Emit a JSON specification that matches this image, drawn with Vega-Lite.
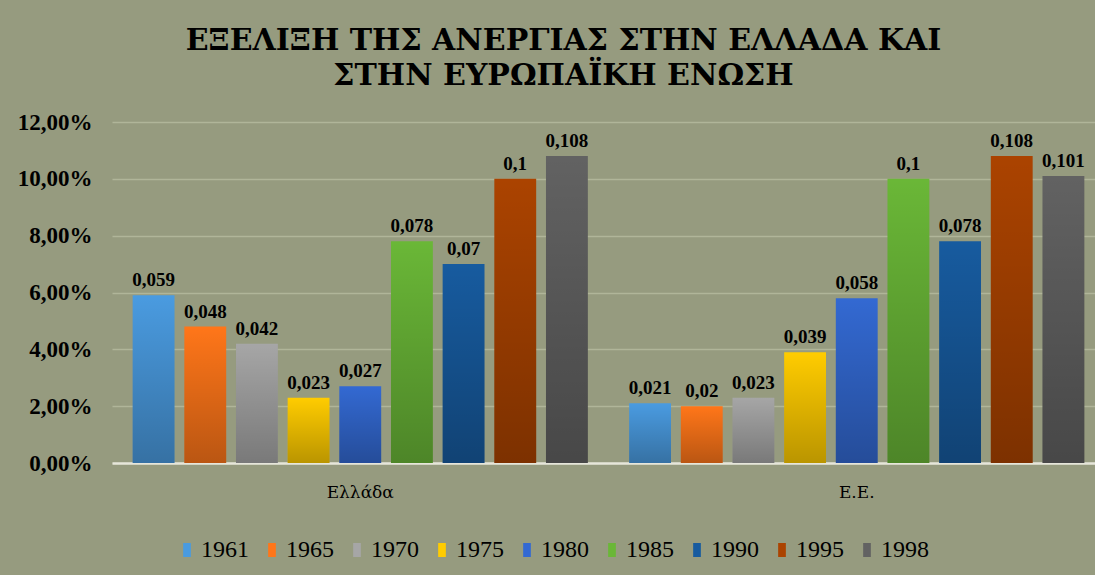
{
  "$schema": "https://vega.github.io/schema/vega-lite/v6.json",
  "width": 983,
  "height": 341,
  "autosize": {"type": "none"},
  "padding": {"left": 112, "top": 122, "right": 0, "bottom": 112},
  "background": "#969B7F",
  "title": {
    "text": ["ΕΞΕΛΙΞΗ ΤΗΣ ΑΝΕΡΓΙΑΣ ΣΤΗΝ ΕΛΛΑΔΑ ΚΑΙ", "ΣΤΗΝ ΕΥΡΩΠΑΪΚΗ ΕΝΩΣΗ"],
    "font": "DejaVu Serif",
    "fontSize": 30,
    "fontWeight": "bold",
    "color": "#000000",
    "letterSpacing": 2,
    "lineHeight": 35,
    "anchor": "middle",
    "frame": "group",
    "dx": -40,
    "offset": 20
  },
  "data": {
    "values": [
      {"group": "Ελλάδα", "year": "1961", "value": 0.059},
      {"group": "Ελλάδα", "year": "1965", "value": 0.048},
      {"group": "Ελλάδα", "year": "1970", "value": 0.042},
      {"group": "Ελλάδα", "year": "1975", "value": 0.023},
      {"group": "Ελλάδα", "year": "1980", "value": 0.027},
      {"group": "Ελλάδα", "year": "1985", "value": 0.078},
      {"group": "Ελλάδα", "year": "1990", "value": 0.07},
      {"group": "Ελλάδα", "year": "1995", "value": 0.1},
      {"group": "Ελλάδα", "year": "1998", "value": 0.108},
      {"group": "Ε.Ε.", "year": "1961", "value": 0.021},
      {"group": "Ε.Ε.", "year": "1965", "value": 0.02},
      {"group": "Ε.Ε.", "year": "1970", "value": 0.023},
      {"group": "Ε.Ε.", "year": "1975", "value": 0.039},
      {"group": "Ε.Ε.", "year": "1980", "value": 0.058},
      {"group": "Ε.Ε.", "year": "1985", "value": 0.1},
      {"group": "Ε.Ε.", "year": "1990", "value": 0.078},
      {"group": "Ε.Ε.", "year": "1995", "value": 0.108},
      {"group": "Ε.Ε.", "year": "1998", "value": 0.101}
    ]
  },
  "encoding": {
    "x": {
      "field": "group",
      "type": "nominal",
      "sort": ["Ελλάδα", "Ε.Ε."],
      "scale": {"range": [0, 993], "paddingInner": 0, "paddingOuter": 0},
      "axis": {
        "title": null,
        "labelAngle": 0,
        "labelFont": "DejaVu Serif",
        "labelFontSize": 17,
        "labelColor": "#000000",
        "labelPadding": 21,
        "ticks": false,
        "tickSize": 0,
        "domainColor": "#E6E6DA",
        "domainWidth": 2.5
      }
    },
    "xOffset": {
      "field": "year",
      "type": "nominal",
      "scale": {"paddingInner": 0.19, "paddingOuter": 0.4}
    },
    "y": {
      "field": "value",
      "type": "quantitative",
      "scale": {"domain": [0, 0.12], "nice": false},
      "axis": {
        "title": null,
        "format": ".2%",
        "values": [0, 0.02, 0.04, 0.06, 0.08, 0.1, 0.12],
        "labelFont": "Liberation Serif",
        "labelFontSize": 23,
        "labelFontWeight": "bold",
        "labelColor": "#000000",
        "labelPadding": 20,
        "ticks": false,
        "tickSize": 0,
        "domain": false,
        "grid": true,
        "gridColor": "#B0B599",
        "gridWidth": 1.5
      }
    }
  },
  "layer": [
    {
      "mark": {"type": "bar"},
      "encoding": {
        "color": {
          "field": "year",
          "type": "nominal",
          "scale": {
            "domain": ["1961", "1965", "1970", "1975", "1980", "1985", "1990", "1995", "1998"],
            "range": ["#4A9BE0", "#FF7619", "#A6A6A6", "#FFCC00", "#3369D2", "#6AB737", "#175B9F", "#AB4300", "#626262"]
          },
          "legend": {
            "title": null,
            "orient": "none",
            "direction": "horizontal",
            "legendX": 63,
            "legendY": 416,
            "symbolType": "M-0.55,-1H0.55V1H-0.55Z",
            "symbolSize": 196,
            "symbolStrokeWidth": 0,
            "symbolOpacity": 1,
            "labelFont": "Liberation Serif",
            "labelFontSize": 24,
            "labelColor": "#000000",
            "labelOffset": 2,
            "columnPadding": 11
          }
        }
      }
    },
    {
      "mark": {
        "type": "bar",
        "fill": {
          "gradient": "linear",
          "x1": 0, "y1": 0, "x2": 0, "y2": 1,
          "stops": [
            {"offset": 0, "color": "rgba(0,0,0,0)"},
            {"offset": 1, "color": "rgba(0,0,0,0.27)"}
          ]
        }
      }
    },
    {
      "mark": {
        "type": "text",
        "baseline": "bottom",
        "dy": -5,
        "font": "Liberation Serif",
        "fontSize": 19,
        "fontWeight": "bold",
        "color": "#000000"
      },
      "encoding": {
        "text": {"field": "value", "type": "quantitative", "format": ".3~f"}
      }
    }
  ],
  "config": {
    "view": {"stroke": null},
    "locale": {
      "number": {"decimal": ",", "thousands": ".", "grouping": [3], "currency": ["", " €"]}
    }
  }
}
